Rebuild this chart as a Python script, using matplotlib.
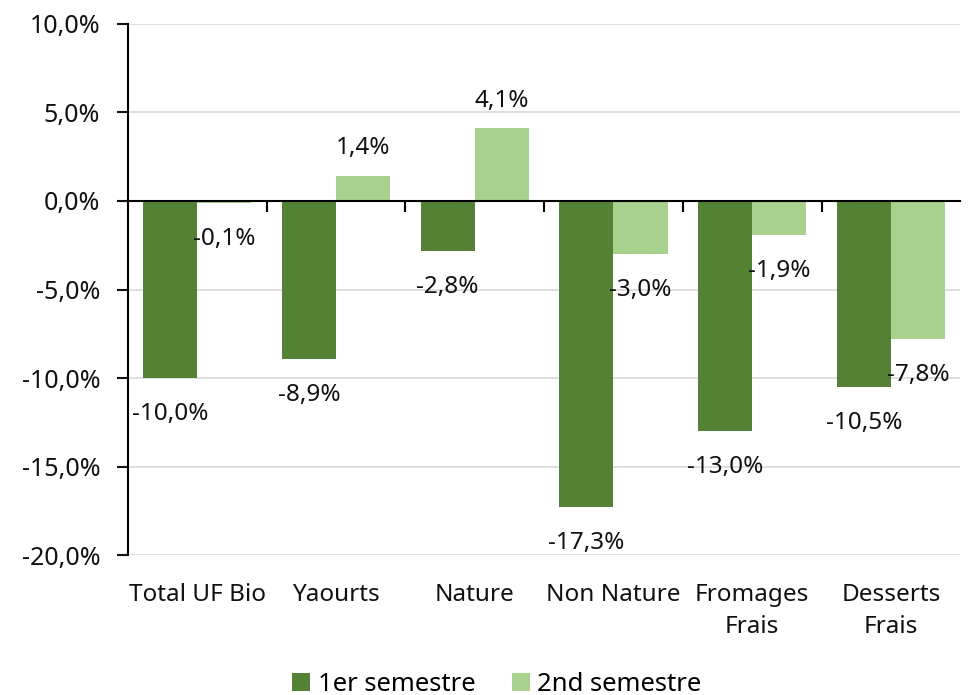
import matplotlib.pyplot as plt
import matplotlib.transforms as mtransforms
import numpy as np
from matplotlib.ticker import FuncFormatter, FixedLocator

categories = ["Total UF Bio", "Yaourts", "Nature", "Non Nature", "Fromages\nFrais", "Desserts\nFrais"]
sem1 = [-10.0, -8.9, -2.8, -17.3, -13.0, -10.5]
sem2 = [-0.1, 1.4, 4.1, -3.0, -1.9, -7.8]
series_names = ["1er semestre", "2nd semestre"]
colors = ["#548235", "#A9D18E"]

plt.rcParams["font.family"] = ["Noto Sans", "DejaVu Sans"]
FS = 17.5

fig = plt.figure(figsize=(9.69, 6.95), dpi=100)
ax = fig.add_axes([0.132, 0.2014, 0.859, 0.7641])

x = np.arange(len(categories))
w = 0.39
for i, (vals, name, col) in enumerate(zip([sem1, sem2], series_names, colors)):
    pos = x + (i - 0.5) * w
    ax.bar(pos, vals, width=w, color=col, label=name, zorder=2)
    for px, v in zip(pos, vals):
        off = 20 if v > 0 else -26
        ax.annotate(f"{v:.1f}%".replace(".", ","), (px, v), xytext=(0, off),
                    textcoords="offset points", ha="center", va="center",
                    fontsize=FS, color="#111111", zorder=4)

ax.set_xlim(-0.5, len(categories) - 0.5)
ax.set_ylim(-20, 10)
ax.yaxis.set_major_locator(FixedLocator(np.arange(-20, 10.1, 5)))
ax.yaxis.set_major_formatter(FuncFormatter(lambda v, _p: f"{v:.1f}%".replace(".", ",")))
ax.tick_params(axis="y", labelsize=18, length=8, width=1.5, direction="out", pad=12, colors="#111111")
ax.grid(axis="y", color="#d9d9d9", linewidth=1.2, zorder=0)
ax.set_axisbelow(True)

for s in ["top", "right"]:
    ax.spines[s].set_visible(False)
ax.spines["left"].set_linewidth(1.5)
ax.spines["bottom"].set_position(("data", 0))
ax.spines["bottom"].set_linewidth(1.5)
ax.spines["bottom"].set_zorder(3)
ax.set_xticks(x[:-1] + 0.5)
ax.set_xticklabels([])
ax.tick_params(axis="x", length=8, width=1.5, direction="out")

trans = mtransforms.blended_transform_factory(ax.transData, ax.transAxes)
for xi, cat in zip(x, categories):
    ax.text(xi, -0.052, cat, transform=trans, ha="center", va="top",
            fontsize=FS, color="#111111", linespacing=1.45)

fig.legend(loc="lower center", bbox_to_anchor=(0.513, -0.036), ncol=2, frameon=False,
           fontsize=18.5, handlelength=0.7, handleheight=0.7, handletextpad=0.3,
           columnspacing=1.4)

fig.savefig("out.png", dpi=100)
